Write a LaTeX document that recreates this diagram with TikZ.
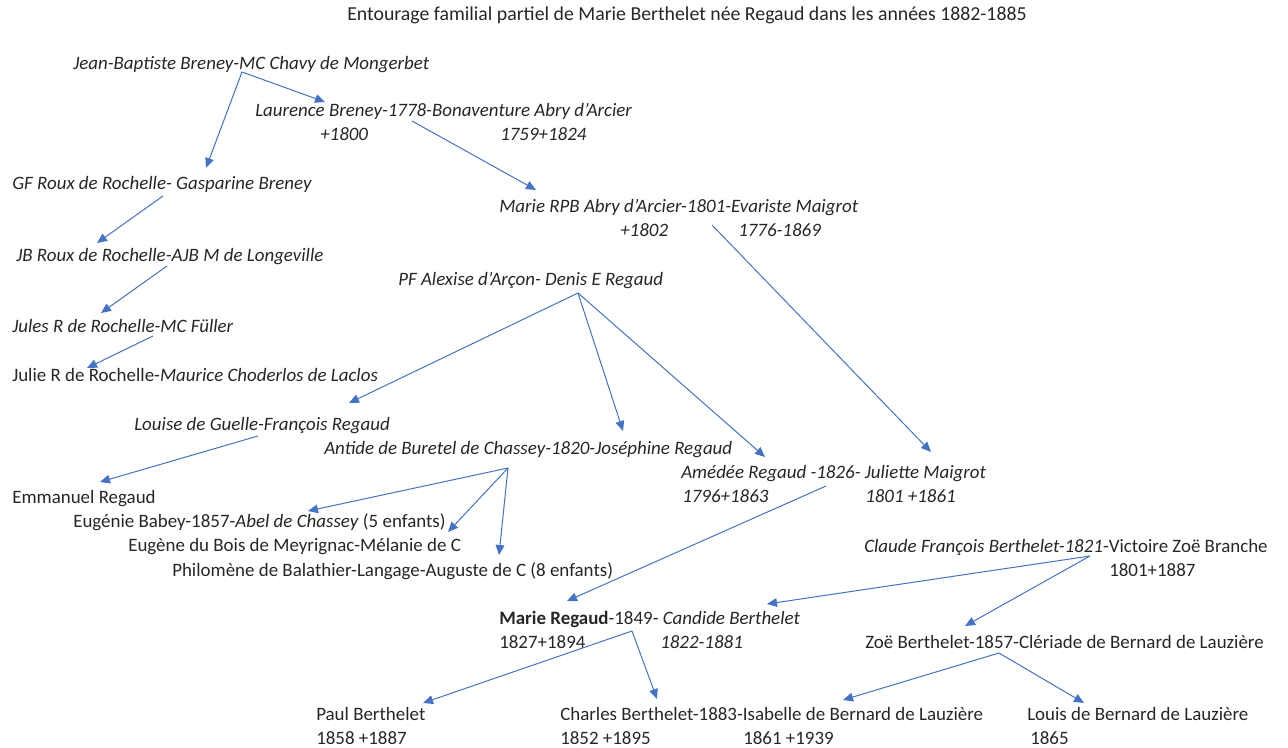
\documentclass[tikz,border=0pt]{standalone}
\usepackage{fontspec}
\setmainfont{Carlito}
\usetikzlibrary{arrows.meta,calc}
\definecolor{lineBlue}{HTML}{4472C4}
\definecolor{inkGray}{HTML}{262626}
\newcommand{\famsize}{\fontsize{14.2pt}{17pt}\selectfont}
\tikzset{
  pers/.style={anchor=base west, inner sep=0pt, font=\famsize, text=inkGray},
  persit/.style={pers, font=\famsize\itshape},
  link/.style={-{Triangle[length=7.5pt,width=6.5pt]}, draw=lineBlue, line width=0.75pt}
}

\begin{document}
\begin{tikzpicture}[x=0.75pt,y=-0.75pt]
  \useasboundingbox (0,0) rectangle (1288,748);

  % title
  \node[pers, font=\fontsize{14.85pt}{18pt}\selectfont] (title) at (347,21) {Entourage familial partiel de Marie Berthelet née Regaud dans les années 1882-1885};

  % Breney branch
  \node[persit] (jb) at (73,70) {Jean-Baptiste Breney-MC Chavy de Mongerbet};
  \node[persit] (laurence) at (255,117) {Laurence Breney-1778-Bonaventure Abry d’Arcier};
  \node[persit] (laurenceA) at (320,141) {+1800};
  \node[persit] (laurenceB) at (500,141) {1759+1824};
  \node[persit] (gf) at (12,190) {GF Roux de Rochelle- Gasparine Breney};
  \node[persit] (mrpb) at (499,213) {Marie RPB Abry d’Arcier-1801-Evariste Maigrot};
  \node[persit] (mrpbA) at (620,237) {+1802};
  \node[persit] (mrpbB) at (738,237) {1776-1869};
  \node[persit] (jbr) at (16,262) {JB Roux de Rochelle-AJB M de Longeville};
  \node[persit] (jules) at (12,333) {Jules R de Rochelle-MC Füller};
  \node[pers] (julie) at (12,382) {Julie R de Rochelle-\textit{Maurice Choderlos de Laclos}};

  % Regaud branch
  \node[persit] (pf) at (398,286) {PF Alexise d’Arçon- Denis E Regaud};
  \node[persit] (louise) at (134,430) {Louise de Guelle-François Regaud};
  \node[persit] (antide) at (324,454) {Antide de Buretel de Chassey-1820-Joséphine Regaud};
  \node[persit] (amedee) at (681,478) {Amédée Regaud -1826- Juliette Maigrot};
  \node[persit] (amedeeA) at (682,502) {1796+1863};
  \node[persit] (amedeeB) at (865,502) {1801 +1861};
  \node[pers] (emmanuel) at (12,503) {Emmanuel Regaud};
  \node[pers] (eugenie) at (73,527) {Eugénie Babey-1857-\textit{Abel de Chassey} (5 enfants)};
  \node[pers] (eugene) at (128,551) {Eugène du Bois de Meyrignac-Mélanie de C};
  \node[pers] (philomene) at (172,576) {Philomène de Balathier-Langage-Auguste de C (8 enfants)};

  % Berthelet branch
  \node[pers] (claude) at (864,552) {\textit{Claude François Berthelet-1821}-Victoire Zoë Branche};
  \node[pers] (claudeA) at (1109,576) {1801+1887};
  \node[pers] (marie) at (499,624) {\textbf{Marie Regaud}-1849- \textit{Candide Berthelet}};
  \node[pers] (marieA) at (499,648) {1827+1894};
  \node[persit] (marieB) at (660,648) {1822-1881};
  \node[pers] (zoe) at (865,648) {Zoë Berthelet-1857-Clériade de Bernard de Lauzière};
  \node[pers] (paul) at (316,720) {Paul Berthelet};
  \node[pers] (paulA) at (316,744) {1858 +1887};
  \node[pers] (charles) at (560,720) {Charles Berthelet-1883-Isabelle de Bernard de Lauzière};
  \node[pers] (charlesA) at (560,744) {1852 +1895};
  \node[pers] (charlesB) at (743,744) {1861 +1939};
  \node[pers] (louis) at (1027,720) {Louis de Bernard de Lauzière};
  \node[pers] (louisA) at (1030,744) {1865};

  % fork points under each couple
  \coordinate (jbFork) at ($(jb.base west)+(169,2)$);
  \coordinate (laurenceFork) at ($(laurence.base west)+(157,4)$);
  \coordinate (gfFork) at ($(gf.base west)+(151,6)$);
  \coordinate (jbrFork) at ($(jbr.base west)+(151,4)$);
  \coordinate (julesFork) at ($(jules.base west)+(141,3)$);
  \coordinate (mrpbFork) at ($(mrpb.base west)+(213,12)$);
  \coordinate (pfFork) at ($(pf.base west)+(180,7)$);
  \coordinate (louiseFork) at ($(louise.base west)+(124,6)$);
  \coordinate (antideFork) at ($(antide.base west)+(184,14)$);
  \coordinate (amedeeFork) at ($(amedee.base west)+(145,8)$);
  \coordinate (claudeFork) at ($(claude.base west)+(226,4)$);
  \coordinate (marieFork) at ($(marie.base west)+(133,7)$);
  \coordinate (zoeFork) at ($(zoe.base west)+(134,5)$);

  % descent links
  \draw[link] (jbFork) -- ($(gf.base west)+(194,-22)$);
  \draw[link] (jbFork) -- ($(laurence.base west)+(70,-15)$);
  \draw[link] (laurenceFork) -- ($(mrpb.base west)+(37,-23)$);
  \draw[link] (gfFork) -- ($(jbr.base west)+(81,-19)$);
  \draw[link] (jbrFork) -- ($(jules.base west)+(89,-20)$);
  \draw[link] (julesFork) -- ($(julie.base west)+(75,-14)$);
  \draw[link] (mrpbFork) -- ($(amedee.base west)+(250,-26)$);
  \draw[link] (pfFork) -- ($(louise.base west)+(215,-27)$);
  \draw[link] (pfFork) -- ($(antide.base west)+(299,-23)$);
  \draw[link] (pfFork) -- ($(amedee.base west)+(84,-21)$);
  \draw[link] (louiseFork) -- ($(emmanuel.base west)+(88,-21)$);
  \draw[link] (antideFork) -- ($(eugenie.base west)+(235,-16)$);
  \draw[link] (antideFork) -- ($(eugene.base west)+(320,-19)$);
  \draw[link] (antideFork) -- ($(philomene.base west)+(327,-21)$);
  \draw[link] (amedeeFork) -- ($(marie.base west)+(68,-23)$);
  \draw[link] (claudeFork) -- ($(marie.base west)+(268,-20)$);
  \draw[link] (claudeFork) -- ($(zoe.base west)+(100,-22)$);
  \draw[link] (marieFork) -- ($(paul.base west)+(107,-17)$);
  \draw[link] (marieFork) -- ($(charles.base west)+(97,-21)$);
  \draw[link] (zoeFork) -- ($(charles.base west)+(283,-20)$);
  \draw[link] (zoeFork) -- ($(louis.base west)+(57,-17)$);
\end{tikzpicture}
\end{document}
